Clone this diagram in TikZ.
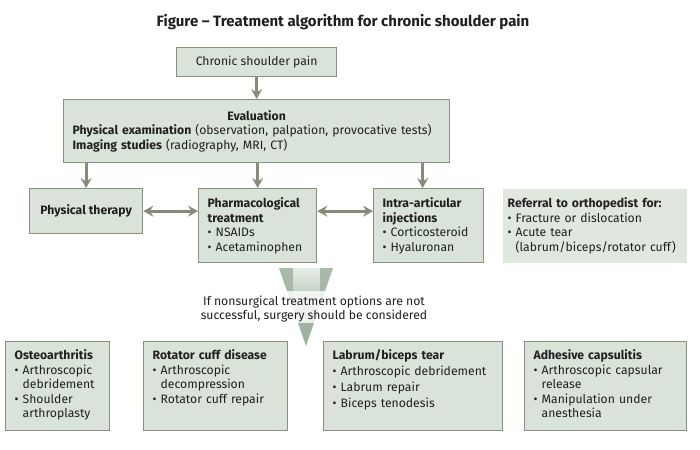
\documentclass[tikz,border=0pt]{standalone}
\usepackage{fontspec}
\setmainfont{Fira Sans}
\usetikzlibrary{arrows.meta,fadings}
\definecolor{boxfill}{HTML}{D9E3D9}
\definecolor{boxline}{HTML}{8B8F7C}
\definecolor{arrowgray}{HTML}{878C78}
\definecolor{bigarrow}{HTML}{9DB0A0}
\definecolor{bandcream}{HTML}{F4F0DC}
\definecolor{inktext}{HTML}{231F20}
\newcommand{\ind}{\phantom{\textbullet}\ }

\begin{document}
\begin{tikzpicture}[x=1pt,y=-1pt,>={Stealth[length=10pt,width=11pt,inset=3.5pt]},
	every node/.style={font=\fontsize{12.2}{14.5}\selectfont,text=inktext},
	box/.style={draw=boxline,fill=boxfill,line width=1.3pt,inner sep=9pt,anchor=north west},
	leftbox/.style={box,align=left},
	surgbox/.style={leftbox,text height=9pt,text depth=62pt},
	link/.style={draw=arrowgray,line width=2.8pt}]
\useasboundingbox (0,0) rectangle (700,449);

\node[font=\bfseries\fontsize{15}{17}\selectfont] (title) at (343,22)
	{Figure – Treatment algorithm for chronic shoulder pain};

\node[box,minimum width=160pt,minimum height=29pt,inner sep=0pt] (pain) at (176,47)
	{Chronic shoulder pain};
\node[leftbox,text width=368pt,minimum height=63pt] (eval) at (63,99)
	{\makebox[\linewidth]{\textbf{Evaluation}}\\
	 \textbf{Physical examination} (observation, palpation, provocative tests)\\
	 \textbf{Imaging studies} (radiography, MRI, CT)};

\node[box,minimum width=113pt,minimum height=45pt,inner sep=0pt,font=\bfseries\fontsize{12.2}{14.5}\selectfont]
	(pt) at (29,188) {Physical therapy};
\node[leftbox,text width=100pt,minimum height=73pt] (pharm) at (198,188)
	{\textbf{Pharmacological}\\ \textbf{treatment}\\ \textbullet\ NSAIDs\\ \textbullet\ Acetaminophen};
\node[leftbox,text width=92pt,minimum height=73pt] (intra) at (373,188)
	{\textbf{Intra-articular}\\ \textbf{injections}\\ \textbullet\ Corticosteroid\\ \textbullet\ Hyaluronan};
\node[leftbox,draw=none,fill=boxfill!85!white,text width=174pt,minimum height=71pt,inner xsep=5pt]
	(refer) at (502,188)
	{\textbf{Referral to orthopedist for:}\\ \textbullet\ Fracture or dislocation\\
	 \textbullet\ Acute tear\\ \ind(labrum/biceps/rotator cuff)};

% arrows between the boxes
\draw[link,->] (pain) -- (eval);
\foreach \n in {pt,pharm}
	\draw[link,->] (eval.south -| \n) -- (\n);
\draw[link,->] (eval.south -| intra.north) ++(-6,0) -- ([xshift=-6pt]intra.north);
\draw[link,<->] (pt.east) -- (pt.east -| pharm.west);
\draw[link,<->] (pharm.east |- pt.east) -- (intra.west |- pt.east);

% the wide arrow to the surgical options
\shade[top color=bigarrow!80!boxfill,bottom color=bigarrow]
	(279,268) -- (333,268) -- (306,346) -- cycle;
\fill[boxfill!60!white,path fading=south]
	(293,268) rectangle (320,312);
\shade[left color=white,middle color=bandcream,right color=white,fill opacity=0.8]
	(183,291) rectangle (441,322);
\node[align=center] (note) at (314,309)
	{If nonsurgical treatment options are not\\ successful, surgery should be considered};

\node[surgbox,text width=86pt] (osteo) at (5,341)
	{\textbf{Osteoarthritis}\\ \textbullet\ Arthroscopic\\ \ind debridement\\
	 \textbullet\ Shoulder\\ \ind arthroplasty};
\node[surgbox,text width=126pt] (cuff) at (143,341)
	{\textbf{Rotator cuff disease}\\ \textbullet\ Arthroscopic\\ \ind decompression\\
	 \textbullet\ Rotator cuff repair};
\node[surgbox,text width=161pt] (labrum) at (323,341)
	{\textbf{Labrum/biceps tear}\\[1.5pt] \textbullet\ Arthroscopic debridement\\[1.5pt]
	 \textbullet\ Labrum repair\\[1.5pt] \textbullet\ Biceps tenodesis};
\node[surgbox,text width=144pt] (capsule) at (524,341)
	{\textbf{Adhesive capsulitis}\\ \textbullet\ Arthroscopic capsular\\ \ind release\\
	 \textbullet\ Manipulation under\\ \ind anesthesia};

\end{tikzpicture}
\end{document}
